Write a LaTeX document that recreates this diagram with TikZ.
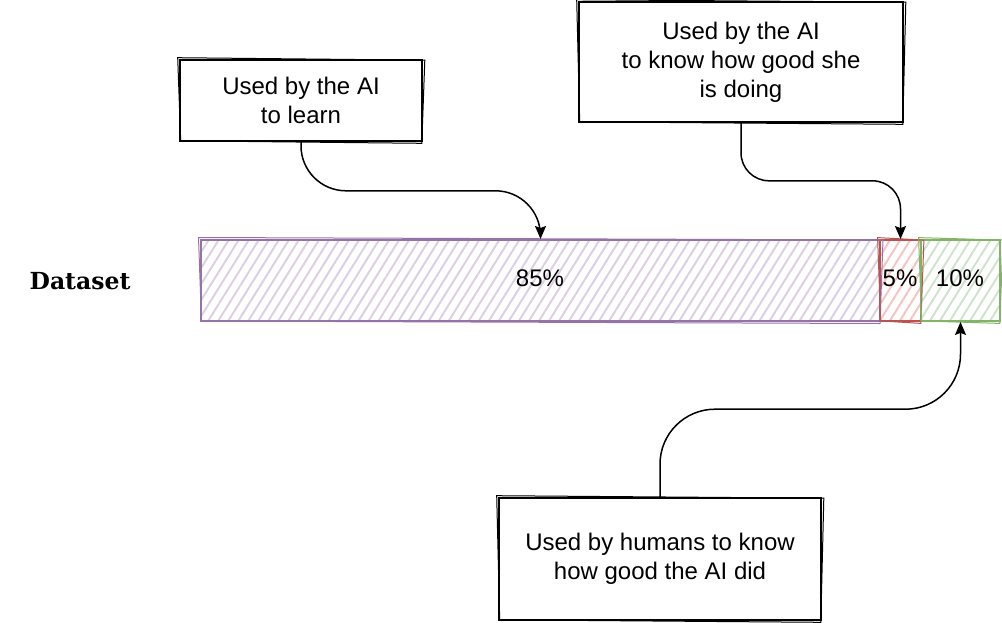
\documentclass[tikz,border=0pt]{standalone}
\usepackage{fontspec}
\setmainfont{Liberation Sans}
\newfontfamily\dsfont{DejaVu Serif}
\usetikzlibrary{arrows.meta,patterns.meta}
\definecolor{pstroke}{HTML}{9673A6}
\definecolor{pfill}{HTML}{DDCFE5}
\definecolor{rstroke}{HTML}{B85450}
\definecolor{rfill}{HTML}{F6C4C2}
\definecolor{gstroke}{HTML}{82B366}
\definecolor{gfill}{HTML}{CFE4CD}
\newcommand\skout[2]{\draw[#1, line width=1pt] ([shift={(-1.5,-1.5)}]#2.north west) -- ([shift={(2,1)}]#2.north east) -- ([shift={(-1,1.5)}]#2.south east) -- ([shift={(1.5,-1)}]#2.south west) -- cycle;}
\begin{document}
\begin{tikzpicture}[x=1pt,y=-1pt,
  note/.style={draw=black, line width=1.6pt, fill=white, align=center, inner sep=0pt,
    font=\fontsize{24}{29}\selectfont},
  seg/.style={line width=1.8pt, inner sep=0pt, minimum height=81pt,
    font=\fontsize{24}{29}\selectfont},
  hatch/.style={pattern={Lines[angle=58,distance=8.5pt,line width=2pt]}, pattern color=#1},
  arr/.style={line width=1.5pt, -{Stealth[length=13pt,width=11pt,inset=2pt]}}]
\useasboundingbox (0,0) rectangle (1002,622);
% bars
\node[seg, draw=pstroke, hatch=pfill, minimum width=679pt] (p) at (540.5,280.5) {};
\node[seg, draw=rstroke, hatch=rfill, minimum width=41pt] (r) at (900.5,280.5) {};
\node[seg, draw=gstroke, hatch=gfill, minimum width=79pt] (g) at (960.5,280.5) {};
\skout{pstroke}{p}
\skout{rstroke}{r}
\skout{gstroke}{g}
\node[font=\fontsize{24}{29}\selectfont] (pt) at (540,278) {85\%};
\node[font=\fontsize{24}{29}\selectfont] (rt) at (900,278) {5\%};
\node[font=\fontsize{24}{29}\selectfont] (gt) at (960,278) {10\%};
\node[font=\dsfont\bfseries\fontsize{23.5}{28}\selectfont] (ds) at (80,281) {Dataset};
% notes
\node[note, minimum width=242pt, minimum height=81pt] (b1) at (301,100.5) {Used by the AI\\to learn};
\node[note, minimum width=324pt, minimum height=120pt] (b2) at (741,62) {Used by the AI\\to know how good she\\is doing};
\node[note, minimum width=322pt, minimum height=122pt] (b3) at (660,559) {Used by humans to know\\how good the AI did};
\skout{black}{b1}
\skout{black}{b2}
\skout{black}{b3}
% connectors
\draw[arr, rounded corners=45pt] (b1.south) -- ++(0,49) -| (p.north);
\draw[arr, rounded corners=28pt] (b2.south) -- ++(0,58) -| (r.north);
\draw[arr, rounded corners=55pt] (b3.north) -- ++(0,-88) -| (g.south);
\end{tikzpicture}
\end{document}
